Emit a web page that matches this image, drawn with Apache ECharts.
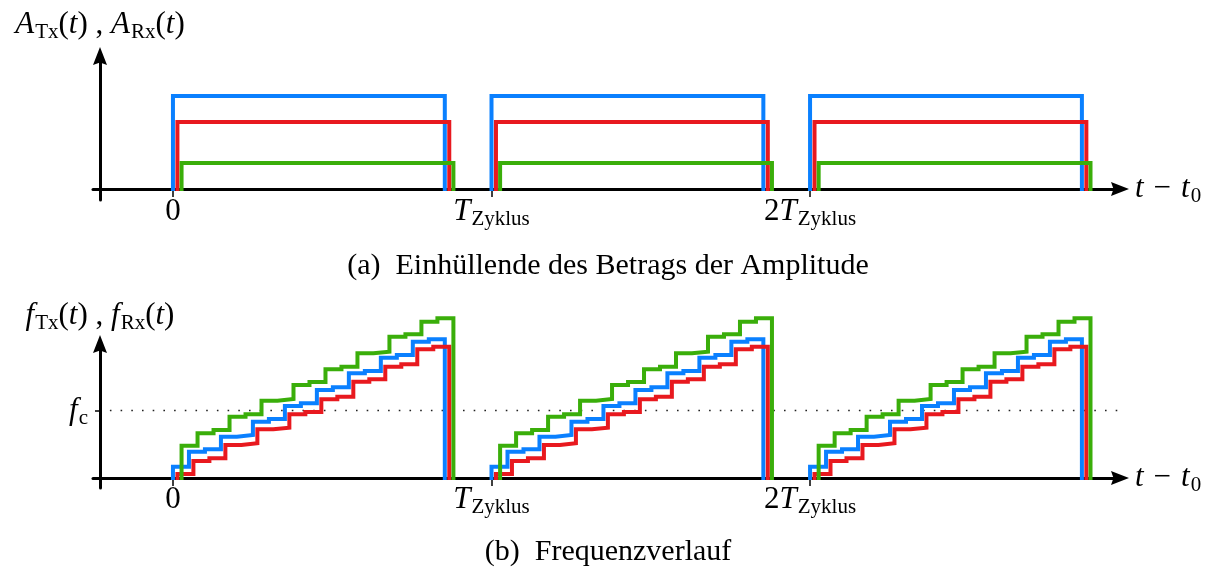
<!DOCTYPE html>
<html>
<head>
<meta charset="utf-8">
<title>Einhüllende und Frequenzverlauf</title>
<script src="https://cdn.jsdelivr.net/npm/echarts@6.0.0/dist/echarts.min.js"></script>
<style>
  html, body { margin: 0; padding: 0; background: #fff; }
  #chart { width: 1216px; height: 571px; }
</style>
</head>
<body>
<div id="chart"></div>
<script>
// Zeit in Einheiten von T_Zyklus
const periods = [0, 1, 2]
const tickValues = [0, 1, 2]
const stepDuration = 0.0502
const delayBlue = 0
const delayRed = 0.014
const delayGreen = 0.027

// (a) Betrag der Amplitude
const ampBlue = 93
const ampRed = 67
const ampGreen = 26

// (b) Frequenzstufen je Zyklus
const freqBlue = [11.3, 26.3, 28.7, 41.3, 43, 56.3, 59, 72, 74.7, 88, 90.7, 104.7, 107, 120.3, 123, 136.3, 138.7]
const freqRed = [4, 17, 19.7, 33, 34.7, 48.7, 50.3, 63.7, 66, 78.7, 81.3, 96.3, 98.7, 111.3, 113.7, 128.7, 131.3]
const freqGreen = [32.3, 44.7, 48, 61.3, 63.7, 77.3, 79, 93, 96, 108.7, 111.3, 124.7, 126.3, 141.3, 143.7, 156.3, 159.7]
const fc = 67.5
const fcLine = [-0.198, 2.973]

const BLUE = '#0a80ff'
const RED = '#e8191f'
const GREEN = '#3aae0a'
const SERIF = '"Liberation Serif", "Times New Roman", serif'

const rich = {
  i: { fontFamily: SERIF, fontStyle: 'italic', fontSize: 31, lineHeight: 24, color: '#000' },
  r: { fontFamily: SERIF, fontSize: 31, lineHeight: 24, color: '#000' },
  m: { fontFamily: SERIF, fontSize: 31, lineHeight: 24, color: '#000', padding: [0, 10, 0, 10] },
  s: { fontFamily: SERIF, fontSize: 21, lineHeight: 14, color: '#000', padding: [15, 0, 0, 1] }
}

const arrow = 'path://M7,0 L14,18 L7,15.5 L0,18 Z'

function pulseTrain (level, delay) {
  const pts = []
  periods.forEach(k => {
    const t0 = k + delay
    const t1 = t0 + freqBlue.length * stepDuration
    pts.push([t0, 0], [t0, level], [t1, level], [t1, 0], [t1, '-'])
  })
  return pts
}

function staircase (levels, delay) {
  const pts = []
  periods.forEach(k => {
    const t0 = k + delay
    const t1 = t0 + levels.length * stepDuration
    pts.push([t0, 0])
    levels.forEach((v, i) => {
      pts.push([t0 + i * stepDuration, v], [t0 + (i + 1) * stepDuration, v])
    })
    pts.push([t1, 0], [t1, '-'])
  })
  return pts
}

function tickLabel (v) {
  if (v === 0) return '{r|0}'
  return (v === 1 ? '' : '{r|' + v + '}') + '{i|T}{s|Zyklus}'
}

function timeAxis (gridIndex) {
  return {
    type: 'value',
    gridIndex,
    min: -0.251,
    max: 2.973,
    splitLine: { show: false },
    axisLine: {
      onZero: true,
      symbol: ['none', arrow],
      symbolSize: [14, 18],
      lineStyle: { color: '#000', width: 3 }
    },
    axisTick: { customValues: tickValues, length: 8, lineStyle: { color: '#000', width: 1.5 } },
    axisLabel: { customValues: tickValues, formatter: tickLabel, margin: 0, rich },
    name: '{i|t}{m|\u2212}{i|t}{s|0}',
    nameLocation: 'end',
    nameGap: 15,
    nameTextStyle: { align: 'left', verticalAlign: 'middle', rich }
  }
}

function valueAxis (gridIndex, min, max, name, nameGap) {
  return {
    type: 'value',
    gridIndex,
    min,
    max,
    offset: -7,
    splitLine: { show: false },
    axisLine: {
      onZero: false,
      symbol: ['none', arrow],
      symbolSize: [14, 18],
      lineStyle: { color: '#000', width: 3 }
    },
    axisTick: { show: false },
    axisLabel: { show: false },
    name,
    nameLocation: 'end',
    nameGap,
    nameTextStyle: { align: 'center', verticalAlign: 'middle', rich }
  }
}

function line (data, color, xi) {
  return {
    type: 'line',
    xAxisIndex: xi,
    yAxisIndex: xi,
    data,
    clip: false,
    silent: true,
    symbol: 'none',
    showSymbol: false,
    connectNulls: false,
    lineStyle: { color, width: 4, cap: 'square', join: 'miter' }
  }
}

const freqAxis = valueAxis(1, -10, 134, '{i|f}{s|Tx}{r|(}{i|t}{r|) , }{i|f}{s|Rx}{r|(}{i|t}{r|)}', 28)
freqAxis.axisTick = { show: true, customValues: [fc], length: 5, lineStyle: { color: '#000', width: 1.5 } }
freqAxis.axisLabel = { show: true, customValues: [fc], formatter: () => '{i|f}{s|c}', margin: 12, rich }

const chart = echarts.init(document.getElementById('chart'))
chart.setOption({
  animation: false,
  grid: [
    { left: 93, right: 96, top: 56, bottom: 371, outerBoundsMode: 'none' },
    { left: 93, right: 96, top: 344, bottom: 83, outerBoundsMode: 'none' }
  ],
  xAxis: [timeAxis(0), timeAxis(1)],
  yAxis: [
    valueAxis(0, -11, 133, '{i|A}{s|Tx}{r|(}{i|t}{r|) , }{i|A}{s|Rx}{r|(}{i|t}{r|)}', 31),
    freqAxis
  ],
  graphic: [
    { type: 'text', left: 'center', top: 251, style: { text: '(a)  Einhüllende des Betrags der Amplitude', font: '30px ' + SERIF, fill: '#000' } },
    { type: 'text', left: 'center', top: 537, style: { text: '(b)  Frequenzverlauf', font: '30px ' + SERIF, fill: '#000' } }
  ],
  series: [
    line(pulseTrain(ampBlue, delayBlue), BLUE, 0),
    line(pulseTrain(ampRed, delayRed), RED, 0),
    line(pulseTrain(ampGreen, delayGreen), GREEN, 0),
    {
      type: 'line',
      xAxisIndex: 1,
      yAxisIndex: 1,
      data: fcLine.map(t => [t, fc]),
      silent: true,
      symbol: 'none',
      lineStyle: { color: '#222', width: 1.6, type: [1.6, 9.1] }
    },
    line(staircase(freqBlue, delayBlue), BLUE, 1),
    line(staircase(freqRed, delayRed), RED, 1),
    line(staircase(freqGreen, delayGreen), GREEN, 1)
  ]
})
</script>
</body>
</html>
